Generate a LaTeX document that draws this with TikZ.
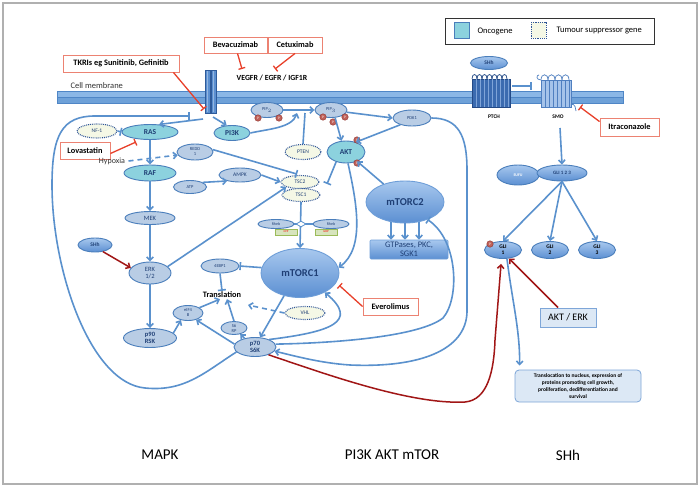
\documentclass[tikz,border=0pt]{standalone}
\usepackage{fontspec}
\setmainfont{Carlito}
\usetikzlibrary{shapes.geometric,arrows.meta,calc}
\definecolor{lblue}{HTML}{5A91CD}
\definecolor{bord}{HTML}{4A7EBB}
\definecolor{tealf}{HTML}{8CD2DE}
\definecolor{lbf}{HTML}{B9CDE5}
\definecolor{cream}{HTML}{F5F8E6}
\definecolor{dkb}{HTML}{2F5597}
\definecolor{txtb}{HTML}{1F3F75}
\definecolor{bigt}{HTML}{A8C8EE}
\definecolor{bigbot}{HTML}{5B8FD2}
\definecolor{bigb}{HTML}{6E9ED8}
\definecolor{drugred}{HTML}{E8402A}
\definecolor{salmon}{HTML}{EC8272}
\definecolor{dred}{HTML}{A11616}
\definecolor{phosf}{HTML}{C0625A}
\definecolor{phosd}{HTML}{8E2F2A}
\definecolor{membt}{HTML}{8BB7E6}
\definecolor{membb}{HTML}{6EA1D8}
\definecolor{membd}{HTML}{4F86C6}
\definecolor{recf}{HTML}{5B8FD0}
\definecolor{recd}{HTML}{2F5B9A}
\definecolor{ptchf}{HTML}{3B6BB0}
\definecolor{ptchd}{HTML}{244A86}
\definecolor{ptchl}{HTML}{7FA4D8}
\definecolor{smof}{HTML}{A5C3EA}
\definecolor{smod}{HTML}{4F7FC0}
\definecolor{gtpf}{HTML}{D7E4BD}
\definecolor{gtpd}{HTML}{9BBB59}
\definecolor{boxf}{HTML}{DCE8F5}
\definecolor{boxd}{HTML}{7EA6D8}
\definecolor{framec}{HTML}{B0B0B0}
\definecolor{gtext}{HTML}{333333}
\tikzset{
 base/.style={ellipse, inner sep=0pt, align=center, line width=0.9pt},
 nd/.style={base, draw=bord, fill=lbf, text=txtb, font=\fontsize{4.5}{5}\selectfont},
 ndm/.style={base, draw=bord, fill=lbf, text=txtb, font=\fontsize{6.5}{7.2}\selectfont},
 onc/.style={base, draw=bord, fill=tealf, text=txtb, font=\bfseries\fontsize{7.5}{8}\selectfont},
 ts/.style={base, draw=dkb, densely dotted, line width=1.1pt, fill=cream, text=txtb, font=\fontsize{5.5}{6}\selectfont},
 big/.style={base, draw=bigb, top color=bigt, bottom color=bigbot, text=txtb, font=\bfseries\fontsize{10.5}{11}\selectfont},
 shhs/.style={base, draw=bord, top color=bigt, bottom color=bigbot, text=txtb, font=\bfseries\fontsize{5.5}{6}\selectfont},
 drug/.style={draw=salmon, fill=white, line width=0.9pt, inner sep=0pt, font=\bfseries\fontsize{8.3}{9}\selectfont},
 ln/.style={draw=lblue, line width=1.6pt},
 arr/.style={ln, -{Straight Barb[length=3.5pt,width=6.5pt]}},
 inh/.style={ln, -{Bar[width=8pt]}},
 dinh/.style={draw=drugred, line width=1.3pt, -{Bar[width=7pt]}},
 darr/.style={draw=dred, line width=1.5pt, -{Straight Barb[length=3.5pt,width=6.5pt]}},
 phos/.style={circle, inner sep=0pt, minimum size=6.5pt, fill=phosf, draw=phosd, line width=0.4pt, text=white, font=\fontsize{3.5}{4}\selectfont},
 gbox/.style={rectangle, fill=gtpf, draw=gtpd, line width=0.4pt, inner sep=0pt, minimum width=22pt, minimum height=6pt, text=red, font=\fontsize{3}{3.5}\selectfont},
}
\begin{document}
\begin{tikzpicture}[x=1pt,y=-1pt]
\useasboundingbox (0,0) rectangle (700,487);
\fill[white] (0,0) rectangle (700,487);
\draw[framec, line width=1.5pt] (3,3) rectangle (697,484);

% membrane
\draw[fill=membt, draw=membd, line width=0.4pt] (57,91) rectangle (623,97);
\draw[fill=membb, draw=membd, line width=0.4pt] (57,97) rectangle (623,103);
\node[anchor=west, text=gtext, font=\fontsize{8.5}{9}\selectfont] (cellm) at (67,86) {Cell membrane};

% receptor tyrosine kinase
\draw[fill=recf, draw=recd, line width=0.5pt] (205,70) rectangle (210,113);
\draw[fill=recf, draw=recd, line width=0.5pt] (211,70) rectangle (216,113);
\fill[white, opacity=0.35] (206.5,71) rectangle (208,112);
\fill[white, opacity=0.35] (212.5,71) rectangle (214,112);
\coordinate (recL) at (203,119);
\coordinate (recR) at (213,117);
\coordinate (recT) at (190,116);
\coordinate (tkT) at (204,109);
\coordinate (bevT) at (242,69);
\coordinate (cetT) at (275,69);

% PTCH
\draw[fill=ptchf, draw=ptchd, line width=0.5pt] (472,79) rectangle (510,107);
\foreach \x in {476,480,...,508} \draw[ptchl, line width=0.4pt] (\x,79) -- (\x,107);
\foreach \x in {472,477,...,502} \draw[ptchd, line width=0.7pt] (\x,79) .. controls (\x,73) and (\x+5,73) .. (\x+5,79);
% SMO
\draw[fill=smof, draw=smod, line width=0.5pt] (541,80) rectangle (571,107);
\foreach \x in {545,549,...,569} \draw[smod, line width=0.4pt] (\x,80) -- (\x,107);
\foreach \x in {541,548,555,562} \draw[smod, line width=0.7pt] (\x,80) .. controls (\x,73) and (\x+7,73) .. (\x+7,80);
\draw[smod, line width=0.7pt] (541,80) .. controls (536,80) and (536,75) .. (539,75);
\draw[smod, line width=0.7pt] (571,104) .. controls (575,104) and (576,108) .. (576,111);
\coordinate (ptA) at (512,86);
\coordinate (ptB) at (532,86);
\coordinate (itT) at (580,107);
\coordinate (smoB) at (560,128);
\node[font=\bfseries\fontsize{5.5}{6}\selectfont] (ptchlab) at (494,117) {PTCH};
\node[font=\bfseries\fontsize{5.5}{6}\selectfont] (smolab) at (558,117) {SMO};
\node[shhs, minimum width=37pt, minimum height=13pt] (shhT) at (489,63) {SHh};

% legend
\draw[gtext, line width=0.8pt] (445,18) rectangle (654,44);
\draw[fill=tealf, draw=bord, line width=0.6pt] (454,22) rectangle (469,38);
\node[anchor=west, font=\fontsize{8.5}{9}\selectfont] (legA) at (474,31) {Oncogene};
\draw[fill=cream, draw=dkb, densely dotted, line width=0.8pt] (531,22) rectangle (546,38);
\node[anchor=west, font=\fontsize{8.5}{9}\selectfont] (legB) at (553,31) {Tumour suppressor gene};

% drug boxes
\node[drug, minimum width=116pt, minimum height=17pt] (tkri) at (121,63.5) {TKRIs eg Sunitinib, Gefinitib};
\node[drug, minimum width=63pt, minimum height=16pt] (bev) at (235.5,45) {Bevacuzimab};
\node[drug, minimum width=54pt, minimum height=16pt] (cet) at (295,45) {Cetuximab};
\node[font=\bfseries\fontsize{7.8}{8.5}\selectfont] (vegfr) at (272,78) {VEGFR / EGFR / IGF1R};
\node[drug, minimum width=50pt, minimum height=17pt] (lova) at (85,150.5) {Lovastatin};
\node[drug, minimum width=55pt, minimum height=17pt] (ever) at (390.5,306.5) {Everolimus};
\node[drug, minimum width=59pt, minimum height=18pt] (itra) at (629.5,127) {Itraconazole};
\coordinate (lovT) at (136,142);

% MAPK nodes
\node[ts, minimum width=40pt, minimum height=14pt] (nf1) at (97,131) {NF-1};
\node[onc, minimum width=56pt, minimum height=15pt] (ras) at (150,132) {RAS};
\node[onc, minimum width=52pt, minimum height=16pt] (raf) at (150,173) {RAF};
\node[ndm, minimum width=50pt, minimum height=13pt] (mek) at (150,218) {MEK};
\node[ndm, minimum width=42pt, minimum height=22pt] (erk) at (150,273) {ERK\\1/2};
\node[ndm, minimum width=53pt, minimum height=19pt, font=\bfseries\fontsize{6.5}{7.2}\selectfont] (p90) at (150,338) {p90\\RSK};
\node[shhs, minimum width=34pt, minimum height=14pt] (shhL) at (95,245) {SHh};
\node[text=gtext, font=\fontsize{8}{9}\selectfont] (hyp) at (112,161) {Hypoxia};

% PI3K nodes
\node[onc, minimum width=36pt, minimum height=15pt] (pi3k) at (232,133) {PI3K};
\node[nd, minimum width=32pt, minimum height=15pt] (pip2) at (267,110) {PIP$_2$};
\node[nd, minimum width=32pt, minimum height=15pt] (pip3) at (331,110) {PIP$_3$};
\node[nd, minimum width=38pt, minimum height=16pt] (pdk1) at (412,118) {PDK1};
\node[onc, minimum width=38pt, minimum height=22pt] (akt) at (346,152) {AKT};
\node[ts, minimum width=36pt, minimum height=15pt] (pten) at (303,152) {PTEN};
\node[nd, minimum width=36pt, minimum height=16pt] (redd1) at (195,152) {REDD\\1};
\node[nd, minimum width=33pt, minimum height=13pt] (atp) at (190,187) {ATP};
\node[nd, minimum width=42pt, minimum height=14pt, font=\fontsize{5.5}{6}\selectfont] (ampk) at (240,175) {AMPK};
\node[ts, minimum width=38pt, minimum height=13pt] (tsc2) at (300,182) {TSC2};
\node[ts, minimum width=38pt, minimum height=13pt] (tsc1) at (301,195) {TSC1};
\coordinate (pjn) at (297,113);
\coordinate (ptenT) at (305,113);
\coordinate (aktT) at (327,184);

\node[gbox] (gtp) at (286,232) {GTP};
\node[gbox] (gdp) at (326,232) {GDP};
\node[nd, minimum width=36pt, minimum height=9pt, font=\fontsize{4}{4.5}\selectfont] (rhebL) at (276,224) {Rheb};
\node[nd, minimum width=36pt, minimum height=9pt, font=\fontsize{4}{4.5}\selectfont] (rhebR) at (331,224) {Rheb};

\node[big, minimum width=78pt, minimum height=49pt] (mtorc1) at (300,273) {mTORC1};
\node[big, minimum width=78pt, minimum height=42pt] (mtorc2) at (405,202) {mTORC2};
\node[rectangle, rounded corners=1pt, draw=bigb, top color=bigt, bottom color=bigbot, line width=0.6pt, minimum width=78pt, minimum height=19pt, inner sep=0pt, align=center, text=txtb, font=\fontsize{8.5}{9}\selectfont] (gtpases) at (409,249.5) {GTPases, PKC,\\SGK1};

\node[nd, minimum width=38pt, minimum height=14pt] (ebp) at (220,266) {4EBP1};
\node[text=black, font=\bfseries\fontsize{8.3}{9}\selectfont, inner sep=1pt] (trans) at (222,295) {Translation};
\node[nd, minimum width=30pt, minimum height=15pt] (eif4b) at (188,313) {eIF4\\B};
\node[nd, minimum width=26pt, minimum height=13pt] (s6rp) at (234,328) {S6\\RP};
\node[ts, minimum width=40pt, minimum height=13pt] (vhl) at (305,313) {VHL};
\node[ndm, minimum width=42pt, minimum height=19pt, font=\bfseries\fontsize{6.5}{7.2}\selectfont] (p70) at (255,347) {p70\\S6K};
\coordinate (vhlT) at (248,305);

% SHh side nodes
\node[shhs, minimum width=42pt, minimum height=20pt, text=white, font=\bfseries\fontsize{4}{4.5}\selectfont] (sufu) at (518,175) {SUFU};
\node[shhs, minimum width=50pt, minimum height=16pt, font=\bfseries\fontsize{5}{5.5}\selectfont] (gli123) at (562,173) {GLI 1 2 3};
\node[shhs, minimum width=37pt, minimum height=17pt, text=black] (gli1) at (503,250) {GLI\\1};
\node[shhs, minimum width=37pt, minimum height=17pt, text=black] (gli2) at (550,250) {GLI\\2};
\node[shhs, minimum width=37pt, minimum height=17pt, text=black] (gli3) at (597,250) {GLI\\3};
\node[rectangle, fill=boxf, draw=boxd, line width=1pt, minimum width=56pt, minimum height=19pt, inner sep=0pt, font=\fontsize{10}{11}\selectfont] (akterk) at (568,317.5) {AKT / ERK};
\node[rectangle, rounded corners=4pt, fill=boxf, draw=boxd, line width=0.8pt, minimum width=126pt, minimum height=32pt, inner sep=0pt, align=center, font=\bfseries\fontsize{5.5}{7}\selectfont] (transloc) at (578,386) {Translocation to nucleus, expression of\\proteins promoting cell growth,\\proliferation, dedifferentiation and\\survival};

% phosphates
\node[phos] (ph1) at (258,118) {P};
\node[phos] (ph2) at (279,118) {P};
\node[phos] (ph3) at (323,117) {P};
\node[phos] (ph4) at (333,122) {P};
\node[phos] (ph5) at (345,117) {P};
\node[phos] (ph6) at (357,140) {P};
\node[phos] (ph7) at (357,163) {P};
\node[phos] (ph8) at (490,244) {P};

% bottom labels
\node[font=\fontsize{15}{16}\selectfont] (lmapk) at (160,455) {MAPK};
\node[font=\fontsize{15}{16}\selectfont] (lpik) at (392,455) {PI3K AKT mTOR};
\node[font=\fontsize{15}{16}\selectfont] (lshh) at (568,455) {SHh};

% ---------- connectors ----------
% drugs
\draw[dinh] ([xshift=-6pt]tkri.south east) -- (tkT);
\draw[dinh] ([xshift=2pt]bev.south) -- (bevT);
\draw[dinh] (cet.south) -- (cetT);
\draw[dinh] ([yshift=-3pt]lova.east) -- (lovT);
\draw[dinh, shorten >=4pt] (ever.west) -- (mtorc1.-15);
\draw[dinh] ([yshift=-4pt]itra.north west) -- (itT);

% receptor
\draw[arr] (recL) -- (ras.40);
\draw[arr] (recR) -- (pi3k.125);
\draw[inh] (p70.195) .. controls (205,372) and (185,392) .. (145,388) .. controls (90,383) and (52,270) .. (52,185) .. controls (52,135) and (62,116) .. (95,116) -- (recT);

% MAPK
\draw[inh] (nf1.east) -- (ras.west);
\draw[arr] (ras.south) -- (raf.north);
\draw[arr] (raf.south) -- (mek.north);
\draw[arr] (mek.south) -- (erk.north);
\draw[arr] (erk.south) -- (p90.north);
\draw[darr] (shhL.-40) -- (erk.165);
\draw[arr, dash pattern=on 5pt off 4pt] (hyp.east) -- (redd1.190);
\draw[arr] (p90.12) -- (eif4b.225);
\draw[arr] (erk.20) -- (tsc2.200);

% PI3K
\draw[arr] (pip2.east) -- (pip3.west);
\draw[arr] (pi3k.east) .. controls (268,129) and (292,128) .. (pjn);
\draw[ln] (pten.north) -- (ptenT);
\draw[arr] (pip3.-8) -- (pdk1.west);
\draw[arr] (pip3.-62) -- (akt.112);
\draw[arr] (pdk1.210) -- (akt.45);
\draw[arr] (mtorc2.140) -- (akt.-40);
\draw[inh] (akt.225) -- (aktT);
\draw[inh, shorten >=3pt] (redd1.8) -- (tsc2.north);
\draw[arr] (atp.20) -- (ampk.205);
\draw[arr] (ampk.east) -- (tsc2.west);
\draw[arr] (tsc1.south) -- (mtorc1.north);
\draw[ln] (rhebL.east) -- (rhebR.west);
\node[diamond, draw=lblue, fill=white, line width=0.8pt, minimum width=10pt, minimum height=6pt, inner sep=0pt] (junc) at (301,224) {};
\draw[arr] (akt.-80) .. controls (356,200) and (366,248) .. (mtorc1.8);
\draw[arr] (mtorc2.235) -- (mtorc2.235 |- gtpases.north);
\draw[arr] (mtorc2.270) -- (mtorc2.270 |- gtpases.north);
\draw[arr] (mtorc2.305) -- (mtorc2.305 |- gtpases.north);

\draw[inh] (mtorc1.172) -- (ebp.east);
\draw[inh] (ebp.south) -- (trans.north);
\draw[arr] (eif4b.25) -- ([xshift=-2pt]trans.south);
\draw[arr] (s6rp.north) -- ([xshift=5pt]trans.south);
\draw[arr, dash pattern=on 5pt off 4pt] (vhl.west) -- (vhlT);
\draw[arr] (mtorc1.235) -- (p70.62);
\draw[arr] (p70.140) -- (s6rp.-45);
\draw[arr] (p70.172) -- (eif4b.-40);
\draw[arr] (p70.28) .. controls (330,332) and (360,322) .. (mtorc1.-38);
\draw[inh] (p70.8) .. controls (340,343) and (420,336) .. (443,318) .. controls (460,298) and (458,240) .. (mtorc2.-38);
\draw[arr] (pdk1.east) .. controls (458,118) and (467,135) .. (467,170) -- (467,312) .. controls (466,350) and (420,368) .. (350,365) .. controls (320,363) and (295,356) .. (p70.-12);

% SHh
\draw[inh] (ptA) -- (ptB);
\draw[arr] (smoB) -- (gli123.north);
\draw[arr] (gli123.south) -- (gli1.north);
\draw[arr] (gli123.south) -- (gli2.north);
\draw[arr] (gli123.south) -- (gli3.north);
\draw[darr] ([xshift=-10pt]akterk.north) -- (gli1.-55);
\draw[arr] ([xshift=4pt]gli1.south) .. controls (512,300) and (520,330) .. ([xshift=5pt,yshift=4pt]transloc.north west);
\draw[darr, shorten >=5pt] (p70.-30) .. controls (320,372) and (410,405) .. (465,402) .. controls (488,400) and (494,370) .. (495,340) -- (gli1.-100);
\end{tikzpicture}
\end{document}
